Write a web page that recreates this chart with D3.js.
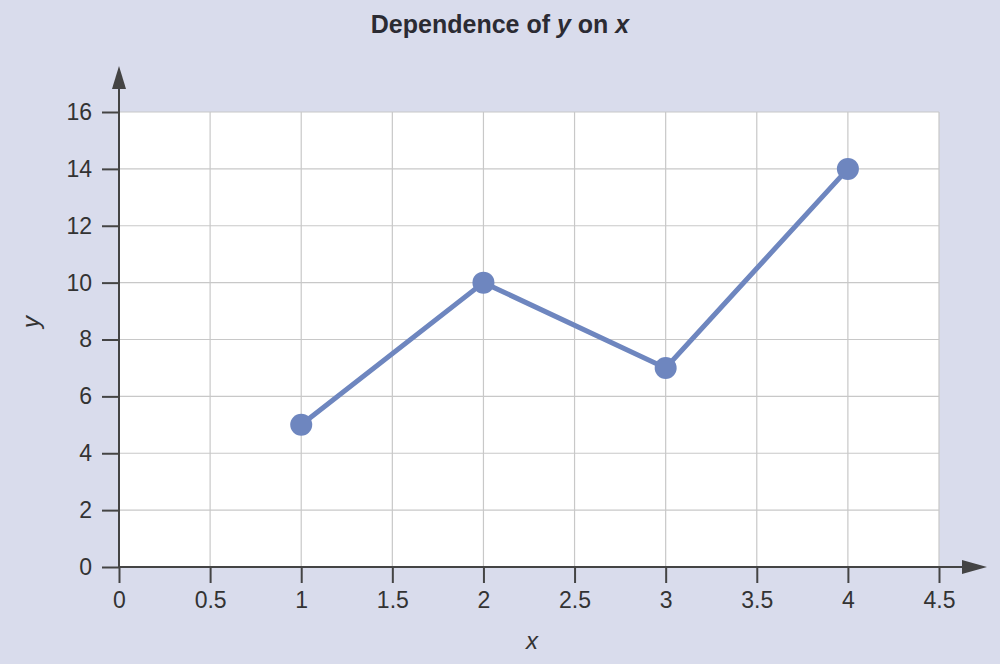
<!DOCTYPE html>
<html><head><meta charset="utf-8">
<script src="https://cdn.jsdelivr.net/npm/d3@7"></script>
<style>body{margin:0;background:#d9dcec;}svg{display:block;font-family:"Liberation Sans",Arial,sans-serif;}</style>
</head><body>
<svg id="c" width="1000" height="664"></svg>
<script>
const xValues = [1, 2, 3, 4];
const yValues = [5, 10, 7, 14];
const xTicks = [0, 0.5, 1, 1.5, 2, 2.5, 3, 3.5, 4, 4.5];
const yTicks = [0, 2, 4, 6, 8, 10, 12, 14, 16];

const svg = d3.select("#c");
const L = 119, R = 939, T = 112, B = 567;
const x = d3.scaleLinear().domain([0, 4.5]).range([L, R]);
const y = d3.scaleLinear().domain([0, 16]).range([B, T]);
const axisCol = "#444";
const FS = 23;

svg.append("rect").attr("width",1000).attr("height",664).attr("fill","#d9dcec");
svg.append("rect").attr("x",L).attr("y",T).attr("width",R-L).attr("height",B-T).attr("fill","#fff");

// grid
svg.append("g").selectAll("line").data(xTicks.filter(d=>d>0)).join("line")
  .attr("x1",d=>x(d)).attr("x2",d=>x(d)).attr("y1",T).attr("y2",B)
  .attr("stroke","#c8c8c8").attr("stroke-width",1.2);
svg.append("g").selectAll("line").data(yTicks.filter(d=>d>0)).join("line")
  .attr("x1",L).attr("x2",R).attr("y1",d=>y(d)).attr("y2",d=>y(d))
  .attr("stroke","#c8c8c8").attr("stroke-width",1.2);

// axes
const xAxis = d3.axisBottom(x).tickValues(xTicks).tickSize(16).tickPadding(9).tickFormat(d=>String(d));
const gx = svg.append("g").attr("transform",`translate(0,${B})`).call(xAxis);
gx.attr("font-size",FS).attr("font-family","Liberation Sans, Arial, sans-serif");
gx.select(".domain").remove();
gx.selectAll("line").attr("stroke",axisCol).attr("stroke-width",2);
gx.selectAll("text").attr("fill","#333");

const yAxis = d3.axisLeft(y).tickValues(yTicks).tickSize(17).tickPadding(10).tickFormat(d=>String(d));
const gy = svg.append("g").attr("transform",`translate(${L},0)`).call(yAxis);
gy.attr("font-size",FS).attr("font-family","Liberation Sans, Arial, sans-serif");
gy.select(".domain").remove();
gy.selectAll("line").attr("stroke",axisCol).attr("stroke-width",2);
gy.selectAll("text").attr("fill","#333");

// axis lines with arrows
svg.append("line").attr("x1",L).attr("x2",965).attr("y1",B).attr("y2",B).attr("stroke",axisCol).attr("stroke-width",2);
svg.append("path").attr("d",`M962,${B-7}L987,${B}L962,${B+7}Z`).attr("fill",axisCol);
svg.append("line").attr("x1",L).attr("x2",L).attr("y1",B).attr("y2",88).attr("stroke",axisCol).attr("stroke-width",2);
svg.append("path").attr("d",`M${L-7},89L${L},66L${L+7},89Z`).attr("fill",axisCol);

// line + points
const data = xValues.map((v,i)=>({x:v,y:yValues[i]}));
const col = "#6e86bf";
svg.append("path").datum(data)
  .attr("d", d3.line().x(d=>x(d.x)).y(d=>y(d.y)))
  .attr("fill","none").attr("stroke",col).attr("stroke-width",5);
svg.append("g").selectAll("circle").data(data).join("circle")
  .attr("cx",d=>x(d.x)).attr("cy",d=>y(d.y)).attr("r",11).attr("fill",col);

// title & labels
const title = svg.append("text").attr("x",500).attr("y",33).attr("text-anchor","middle")
  .attr("font-size",25).attr("font-weight","bold").attr("fill","#2b2b33");
title.append("tspan").text("Dependence of ");
title.append("tspan").attr("font-style","italic").text("y");
title.append("tspan").text(" on ");
title.append("tspan").attr("font-style","italic").text("x");

svg.append("text").attr("x",532).attr("y",649).attr("text-anchor","middle")
  .attr("font-size",24).attr("font-style","italic").attr("fill","#333").text("x");
svg.append("text").attr("transform","translate(39,322) rotate(-90)").attr("text-anchor","middle")
  .attr("font-size",24).attr("font-style","italic").attr("fill","#333").text("y");
</script>
</body></html>
